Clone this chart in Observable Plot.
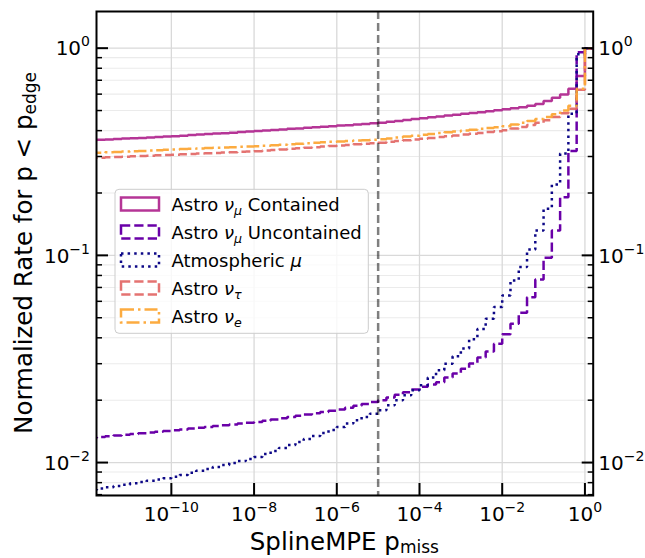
<!DOCTYPE html>
<html><head><meta charset="utf-8">
<script src="https://cdn.jsdelivr.net/npm/d3@7"></script>
<script src="https://cdn.jsdelivr.net/npm/@observablehq/plot@0.6"></script>
<style>
html,body{margin:0;padding:0;background:#fff;}
#chart{width:645px;height:558px;}
</style></head><body><div id="chart"></div>
<script>
// Bin edges (log10 of SplineMPE p_miss), 0.2-decade bins
const binEdgeExponents = [-12,-11.8,-11.6,-11.4,-11.2,-11,-10.8,-10.6,-10.4,-10.2,
  -10,-9.8,-9.6,-9.4,-9.2,-9,-8.8,-8.6,-8.4,-8.2,
  -8,-7.8,-7.6,-7.4,-7.2,-7,-6.8,-6.6,-6.4,-6.2,
  -6,-5.8,-5.6,-5.4,-5.2,-5,-4.8,-4.6,-4.4,-4.2,
  -4,-3.8,-3.6,-3.4,-3.2,-3,-2.8,-2.6,-2.4,-2.2,
  -2,-1.8,-1.6,-1.4,-1.2,-1,-0.8,-0.6,-0.4,-0.2,0,0.2];

const astroNuMuContained = [0.359,0.361,0.362,0.364,0.366,0.368,0.369,0.371,0.373,0.375,
  0.376,0.378,0.381,0.383,0.385,0.387,0.389,0.391,0.394,0.396,
  0.398,0.401,0.403,0.405,0.408,0.410,0.413,0.415,0.418,0.420,
  0.423,0.425,0.428,0.431,0.434,0.437,0.441,0.445,0.450,0.455,
  0.459,0.464,0.468,0.473,0.477,0.482,0.487,0.491,0.496,0.501,
  0.507,0.513,0.519,0.527,0.537,0.556,0.576,0.598,0.637,0.733,1.0];

const astroNuMuUncontained = [0.01318,0.01329,0.01340,0.01351,0.01363,0.01374,0.01386,0.01397,0.01409,0.01421,
  0.01432,0.01445,0.01459,0.01472,0.01486,0.01500,0.01514,0.01528,0.01542,0.01556,
  0.01570,0.01592,0.01614,0.01637,0.01660,0.01683,0.01706,0.01730,0.01754,0.01778,
  0.01803,0.01841,0.01879,0.01918,0.01958,0.01998,0.02059,0.02122,0.02187,0.02254,
  0.0232,0.0238,0.0244,0.0257,0.0269,0.0284,0.0301,0.0321,0.0344,0.0374,
  0.0416,0.0468,0.0528,0.0627,0.0764,0.0975,0.132,0.191,0.319,0.955,1.0];

const atmosphericMu = [0.00739,0.00749,0.00760,0.00771,0.00782,0.00794,0.00805,0.00817,0.00829,0.00841,
  0.00853,0.00872,0.00892,0.00912,0.00932,0.00953,0.00974,0.00996,0.01018,0.01041,
  0.01064,0.01100,0.01138,0.01176,0.01216,0.01258,0.01300,0.01344,0.01390,0.01437,
  0.01486,0.01542,0.01600,0.01660,0.01722,0.01786,0.01888,0.01997,0.02111,0.02233,
  0.0236,0.0257,0.0279,0.0300,0.0326,0.0355,0.0394,0.0441,0.0495,0.0564,
  0.0641,0.0757,0.0879,0.1066,0.132,0.168,0.220,0.310,0.483,0.935,1.0];

const astroNuTau = [0.2949,0.2960,0.2972,0.2983,0.2994,0.3005,0.3016,0.3028,0.3039,0.3051,
  0.3062,0.3074,0.3086,0.3098,0.3110,0.3122,0.3134,0.3147,0.3159,0.3171,
  0.3184,0.3205,0.3225,0.3246,0.3266,0.3287,0.3309,0.3329,0.3351,0.3372,
  0.3393,0.3414,0.3436,0.3456,0.3478,0.3499,0.3530,0.3561,0.3592,0.3624,
  0.3656,0.3690,0.3724,0.3758,0.3793,0.3828,0.3864,0.3899,0.3936,0.3972,
  0.402,0.409,0.417,0.426,0.436,0.449,0.465,0.485,0.510,0.630,1.0];

const astroNuE = [0.3116,0.3129,0.3142,0.3155,0.3168,0.3180,0.3193,0.3206,0.3219,0.3232,
  0.3245,0.3257,0.3269,0.3281,0.3293,0.3305,0.3317,0.3329,0.3341,0.3353,
  0.3365,0.3383,0.3401,0.3419,0.3437,0.3456,0.3474,0.3493,0.3511,0.3530,
  0.3548,0.3565,0.3581,0.3597,0.3614,0.3631,0.3668,0.3705,0.3743,0.3781,
  0.3819,0.3855,0.3892,0.3929,0.3966,0.4004,0.4042,0.4080,0.4119,0.4158,
  0.420,0.428,0.436,0.445,0.455,0.466,0.480,0.500,0.528,0.637,1.0];

const seriesKeys = ["contained","uncontained","atmospheric","tau","e"];
const seriesValues = [astroNuMuContained, astroNuMuUncontained, atmosphericMu, astroNuTau, astroNuE];
const seriesColors = ["#b12a90","#6a00a8","#0d0887","#e16462","#fca636"];
const seriesDash = [null,"9.25,4","2.5,4.1","9.25,4","13,4,2.5,4"];
const seriesOpacity = [0.95,1,1,0.9,0.95];

const cutValue = [1e-5];
const xTicks = [1e-10,1e-8,1e-6,1e-4,1e-2,1];
const yTicksMajor = [0.01,0.1,1];
const yTicksMinor = [0.007,0.008,0.009,0.02,0.03,0.04,0.05,0.06,0.07,0.08,0.09,0.2,0.3,0.4,0.5,0.6,0.7,0.8,0.9];
const xDomainExp = [-11.81, 0.2];
const yDomainExp = [-2.159, 0.177];

const fmt = d => "10^" + Math.round(Math.log10(d));

const rowsFor = vals => {
  const r = vals.map((v, i) => ({x: 10 ** binEdgeExponents[i], y: v}));
  r.push({x: 10 ** binEdgeExponents[vals.length], y: vals[vals.length - 1]});
  return r;
};

const lineMarks = seriesValues.map((vals, k) => Plot.line(rowsFor(vals), {
  x: "x", y: "y", curve: "step-after", clip: true,
  stroke: seriesColors[k], strokeWidth: 2.5, strokeOpacity: seriesOpacity[k],
  strokeDasharray: seriesDash[k], strokeLinecap: "butt", strokeLinejoin: "miter"
}));

const ML = 96, MR = 52.3, MT = 11, MB = 63, W = 645, H = 558;

const chart = Plot.plot({
  width: W, height: H,
  marginLeft: ML, marginRight: MR, marginTop: MT, marginBottom: MB,
  x: {type: "log", domain: [10 ** xDomainExp[0], 10 ** xDomainExp[1]]},
  y: {type: "log", domain: [10 ** yDomainExp[0], 10 ** yDomainExp[1]]},
  style: {fontFamily: "DejaVu Sans", background: "white", color: "black"},
  marks: [
    Plot.gridY(yTicksMinor, {stroke: "#ebebeb", strokeOpacity: 1, strokeWidth: 1.1}),
    Plot.gridY(yTicksMajor, {stroke: "#d9d9d9", strokeOpacity: 1, strokeWidth: 1.3}),
    Plot.gridX(xTicks, {stroke: "#d9d9d9", strokeOpacity: 1, strokeWidth: 1.3}),
    ...lineMarks,
    Plot.ruleX(cutValue, {stroke: "black", strokeOpacity: 0.5, strokeWidth: 2.5, strokeDasharray: "8,4"}),
    Plot.axisX(xTicks, {anchor: "bottom", tickSize: -12, strokeWidth: 2, fill: "none", label: null}),
    Plot.axisY(yTicksMajor, {anchor: "left", tickSize: -12, strokeWidth: 2, fill: "none", label: null}),
    Plot.axisY(yTicksMinor, {anchor: "left", tickSize: -6, strokeWidth: 1.5, fill: "none", label: null}),
    Plot.axisY(yTicksMajor, {anchor: "right", tickSize: -12, strokeWidth: 2, fill: "none", label: null}),
    Plot.axisY(yTicksMinor, {anchor: "right", tickSize: -6, strokeWidth: 1.5, fill: "none", label: null}),
    Plot.axisX(xTicks, {anchor: "bottom", tickSize: 0, tickPadding: 0, fontSize: 20, tickFormat: fmt, label: null}),
    Plot.axisY(yTicksMajor, {anchor: "left", tickSize: 0, tickPadding: 6.5, fontSize: 20, tickFormat: fmt, label: null}),
    Plot.axisY(yTicksMajor, {anchor: "right", tickSize: 0, tickPadding: 5, fontSize: 20, tickFormat: fmt, label: null}),
    Plot.frame({stroke: "black", strokeWidth: 2})
  ]
});

document.getElementById("chart").appendChild(chart);
const svg = d3.select(chart);

// superscript tick labels
function supify(aria, baseY, supDy) {
  svg.selectAll(`g[aria-label="${aria}"] text`).each(function () {
    const t = d3.select(this);
    const s = t.text();
    if (!s.includes("^")) return;
    const [base, exp] = s.split("^");
    t.text(null);
    t.attr("y", baseY);
    t.append("tspan").text(base);
    t.append("tspan").attr("dy", supDy).attr("font-size", 14).text(exp.replace("-", "\u2212"));
  });
}
supify("x-axis tick label", 25, -8.5);
supify("y-axis tick label", 7.3, -9);

// axis titles
const cx = ML + (W - ML - MR) / 2, cy = MT + (H - MT - MB) / 2;
const xl = svg.append("text").attr("x", cx).attr("y", 549.5).attr("text-anchor", "middle")
  .attr("font-family", "DejaVu Sans").attr("font-size", 24.5).attr("fill", "black");
xl.append("tspan").text("SplineMPE p");
xl.append("tspan").attr("dy", 3.5).attr("font-size", 17).text("miss");

const yl = svg.append("text").attr("transform", `translate(32,${cy}) rotate(-90)`).attr("text-anchor", "middle")
  .attr("font-family", "DejaVu Sans").attr("font-size", 24.5).attr("fill", "black");
yl.append("tspan").text("Normalized Rate for p < p");
yl.append("tspan").attr("dy", 3.5).attr("font-size", 17).text("edge");

// legend
const legendLabels = [
  ["Astro ", "\u03bd", "\u03bc", " Contained"],
  ["Astro ", "\u03bd", "\u03bc", " Uncontained"],
  ["Atmospheric ", "\u03bc", null, ""],
  ["Astro ", "\u03bd", "\u03c4", ""],
  ["Astro ", "\u03bd", "e", ""]
];
const lg = svg.append("g").attr("font-family", "DejaVu Sans").attr("font-size", 18).attr("text-anchor", "start");
lg.append("rect").attr("x", 115).attr("y", 189.3).attr("width", 253.3).attr("height", 144)
  .attr("rx", 4).attr("fill", "white").attr("fill-opacity", 0.8).attr("stroke", "#cccccc").attr("stroke-width", 1);
legendLabels.forEach((lab, i) => {
  const c = 204 + 28 * i;
  lg.append("rect").attr("x", 121).attr("y", c - 6.5).attr("width", 38).attr("height", 13)
    .attr("fill", "none").attr("stroke", seriesColors[i]).attr("stroke-width", 2.5)
    .attr("stroke-opacity", seriesOpacity[i])
    .attr("stroke-dasharray", seriesDash[i]);
  const t = lg.append("text").attr("x", 171.5).attr("y", c + 6.7).attr("fill", "black").attr("text-anchor", "start");
  t.append("tspan").text(lab[0]);
  t.append("tspan").attr("font-style", "italic").text(lab[1]);
  if (lab[2]) {
    t.append("tspan").attr("font-style", "italic").attr("font-size", 12.6).attr("dy", 4).text(lab[2]);
    if (lab[3]) t.append("tspan").attr("dy", -4).text(lab[3]);
  }
});
</script>
</body></html>
